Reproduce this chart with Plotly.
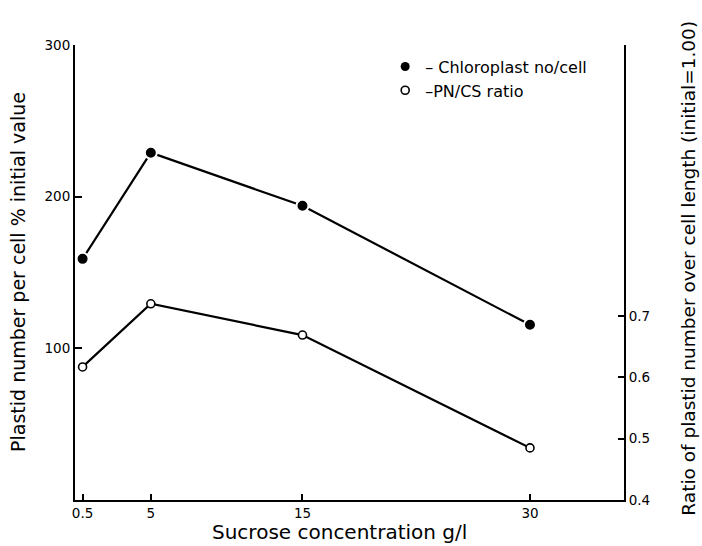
import plotly.graph_objects as go

sucrose = [0.5, 5, 15, 30]
chloroplast_pct = [159, 229, 194, 115.5]
pn_cs_ratio = [0.617, 0.72, 0.669, 0.485]

x_ticks = [0.5, 5, 15, 30]
x_ticklabels = ["0.5", "5", "15", "30"]
left_ticks = [100, 200, 300]
right_ticks = [0.4, 0.5, 0.6, 0.7]
right_ticklabels = ["0.4", "0.5", "0.6", "0.7"]

FONT = "DejaVu Sans"

fig = go.Figure()
fig.add_trace(go.Scatter(
    x=sucrose, y=chloroplast_pct, mode="lines+markers", showlegend=False,
    line=dict(color="black", width=2.2),
    marker=dict(symbol="circle", size=12, color="black", line=dict(color="white", width=2)),
))
fig.add_trace(go.Scatter(
    x=sucrose, y=pn_cs_ratio, mode="lines+markers", showlegend=False, yaxis="y2",
    line=dict(color="black", width=2.2),
    marker=dict(symbol="circle", size=8, color="white", line=dict(color="black", width=1.6)),
))
# legend entries
fig.add_trace(go.Scatter(
    x=[None], y=[None], mode="markers", name="– Chloroplast no/cell",
    marker=dict(symbol="circle", size=9, color="black"),
))
fig.add_trace(go.Scatter(
    x=[None], y=[None], mode="markers", name="–PN/CS ratio",
    marker=dict(symbol="circle", size=8, color="white", line=dict(color="black", width=1.6)),
))

fig.update_layout(
    width=702, height=546,
    margin=dict(l=75, r=78, t=45, b=46),
    paper_bgcolor="white", plot_bgcolor="white",
    font=dict(family=FONT, color="black", size=13),
    xaxis=dict(
        range=[0, 36.2], tickvals=x_ticks, ticktext=x_ticklabels,
        ticks="inside", ticklen=6, tickwidth=1.5, tickcolor="black",
        showline=True, linecolor="black", linewidth=2,
        showgrid=False, zeroline=False, tickfont=dict(size=13.5),
    ),
    yaxis=dict(
        range=[0, 300], tickvals=left_ticks,
        ticks="inside", ticklen=7, tickwidth=1.5, tickcolor="black",
        showline=True, linecolor="black", linewidth=2,
        showgrid=False, zeroline=False, tickfont=dict(size=13.5),
    ),
    yaxis2=dict(
        overlaying="y", side="right",
        range=[0.4, 1.142], tickvals=right_ticks, ticktext=right_ticklabels,
        ticks="inside", ticklen=6, tickwidth=1.5, tickcolor="black",
        showline=True, linecolor="black", linewidth=2,
        showgrid=False, zeroline=False, tickfont=dict(size=13.5),
    ),
    legend=dict(
        x=0.565, y=0.99, xanchor="left", yanchor="top",
        bgcolor="rgba(0,0,0,0)", font=dict(size=16), itemwidth=30,
        tracegroupgap=8,
    ),
    annotations=[
        dict(text="Plastid number per cell % initial value", xref="paper", yref="paper",
             x=-0.104, y=0.501, textangle=-90, showarrow=False, font=dict(size=19),
             xanchor="center", yanchor="middle"),
        dict(text="Ratio of plastid number over cell length (initial=1.00)", xref="paper", yref="paper",
             x=1.117, y=0.509, textangle=-90, showarrow=False, font=dict(size=18.5),
             xanchor="center", yanchor="middle"),
        dict(text="Sucrose concentration g/l", xref="paper", yref="paper",
             x=0.481, y=-0.071, showarrow=False, font=dict(size=20),
             xanchor="center", yanchor="middle"),
    ],
)

fig.write_html("out.html")
